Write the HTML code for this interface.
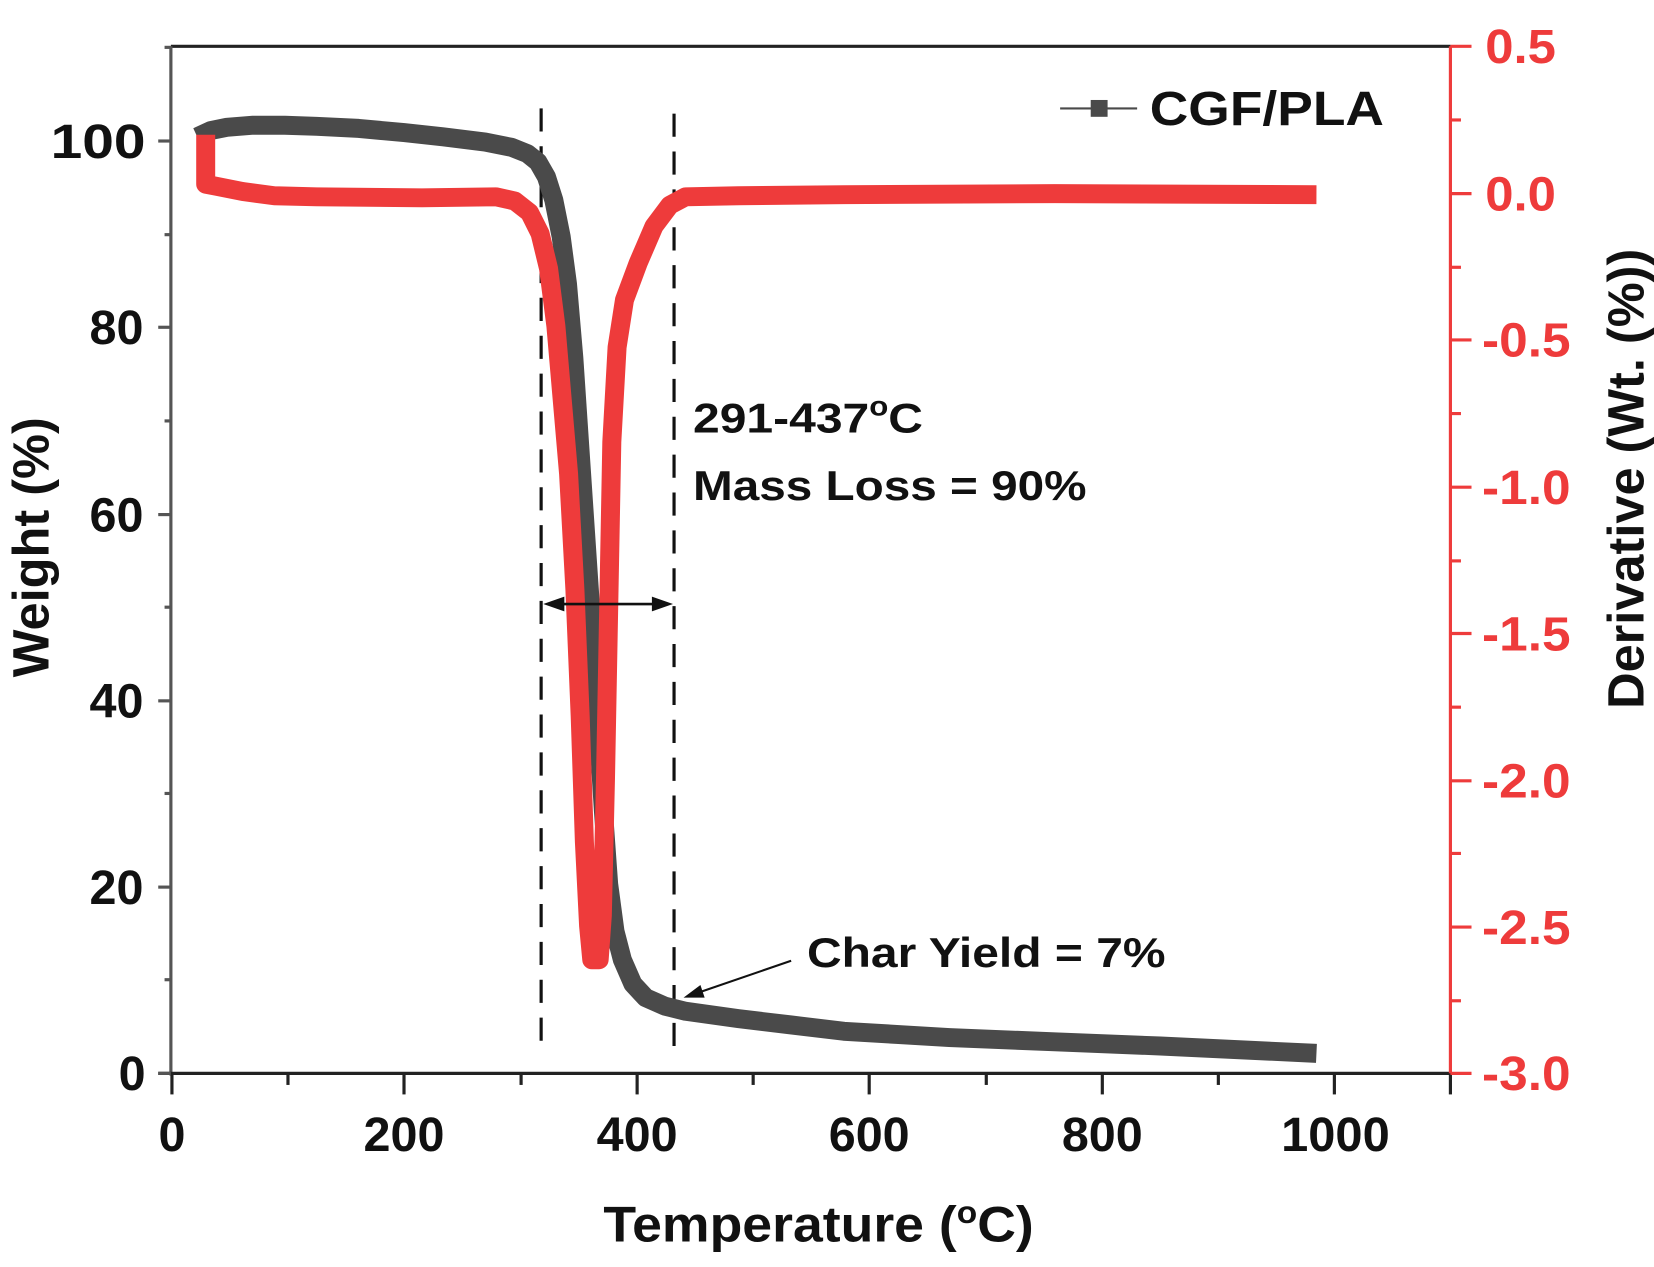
<!DOCTYPE html>
<html><head><meta charset="utf-8"><style>
html,body{margin:0;padding:0;background:#fff;}
svg{display:block;}
text{font-family:"Liberation Sans",Arial,sans-serif;font-weight:bold;}
</style></head><body>
<svg width="1654" height="1267" viewBox="0 0 1568 1204" preserveAspectRatio="none" xmlns="http://www.w3.org/2000/svg">
<rect width="1568" height="1204" fill="#fff"/>
<line x1="162" y1="44" x2="1375" y2="44" stroke="#222" stroke-width="3"/>
<line x1="162" y1="44" x2="162" y2="1022" stroke="#555" stroke-width="3"/>
<line x1="150" y1="1020" x2="1375" y2="1020" stroke="#222" stroke-width="3"/>
<line x1="1375" y1="44" x2="1375" y2="1020" stroke="#ee3b3b" stroke-width="3"/>
<g stroke="#222" stroke-width="3">
<line x1="163" y1="1020" x2="163" y2="1040"/><line x1="273" y1="1020" x2="273" y2="1031"/>
<line x1="383" y1="1020" x2="383" y2="1040"/><line x1="494" y1="1020" x2="494" y2="1031"/>
<line x1="604" y1="1020" x2="604" y2="1040"/><line x1="714" y1="1020" x2="714" y2="1031"/>
<line x1="824" y1="1020" x2="824" y2="1040"/><line x1="935" y1="1020" x2="935" y2="1031"/>
<line x1="1045" y1="1020" x2="1045" y2="1040"/><line x1="1155" y1="1020" x2="1155" y2="1031"/>
<line x1="1265" y1="1020" x2="1265" y2="1040"/><line x1="1375" y1="1020" x2="1375" y2="1040"/>
</g>
<g stroke="#555" stroke-width="3">
<line x1="150" y1="1020" x2="162" y2="1020"/><line x1="156" y1="931" x2="162" y2="931"/>
<line x1="150" y1="843" x2="162" y2="843"/><line x1="156" y1="754" x2="162" y2="754"/>
<line x1="150" y1="666" x2="162" y2="666"/><line x1="156" y1="577" x2="162" y2="577"/>
<line x1="150" y1="489" x2="162" y2="489"/><line x1="156" y1="400" x2="162" y2="400"/>
<line x1="150" y1="311" x2="162" y2="311"/><line x1="156" y1="223" x2="162" y2="223"/>
<line x1="150" y1="134" x2="162" y2="134"/><line x1="156" y1="45" x2="162" y2="45"/>
</g>
<g font-size="46" text-anchor="end" fill="#111">
<text x="138" y="1036">0</text><text x="136" y="859">20</text><text x="136" y="682">40</text>
<text x="136" y="505">60</text><text x="136" y="327">80</text><text x="138" y="150" textLength="90" lengthAdjust="spacingAndGlyphs">100</text>
</g>
<g stroke="#ee3b3b" stroke-width="3">
<line x1="1375" y1="44" x2="1395" y2="44"/><line x1="1375" y1="114" x2="1385" y2="114"/>
<line x1="1375" y1="184" x2="1395" y2="184"/><line x1="1375" y1="254" x2="1385" y2="254"/>
<line x1="1375" y1="323" x2="1395" y2="323"/><line x1="1375" y1="393" x2="1385" y2="393"/>
<line x1="1375" y1="463" x2="1395" y2="463"/><line x1="1375" y1="533" x2="1385" y2="533"/>
<line x1="1375" y1="602" x2="1395" y2="602"/><line x1="1375" y1="672" x2="1385" y2="672"/>
<line x1="1375" y1="742" x2="1395" y2="742"/><line x1="1375" y1="811" x2="1385" y2="811"/>
<line x1="1375" y1="881" x2="1395" y2="881"/><line x1="1375" y1="951" x2="1385" y2="951"/>
<line x1="1375" y1="1020" x2="1395" y2="1020"/>
</g>
<g font-size="46" fill="#ee3b3b">
<text x="1408" y="60" textLength="67" lengthAdjust="spacingAndGlyphs">0.5</text>
<text x="1408" y="200" textLength="67" lengthAdjust="spacingAndGlyphs">0.0</text>
<text x="1405" y="339" textLength="84" lengthAdjust="spacingAndGlyphs">-0.5</text>
<text x="1405" y="479" textLength="84" lengthAdjust="spacingAndGlyphs">-1.0</text>
<text x="1405" y="618" textLength="84" lengthAdjust="spacingAndGlyphs">-1.5</text>
<text x="1405" y="758" textLength="84" lengthAdjust="spacingAndGlyphs">-2.0</text>
<text x="1405" y="897" textLength="84" lengthAdjust="spacingAndGlyphs">-2.5</text>
<text x="1405" y="1036" textLength="84" lengthAdjust="spacingAndGlyphs">-3.0</text>
</g>
<g font-size="46" text-anchor="middle" fill="#111">
<text x="163" y="1094">0</text><text x="383" y="1094">200</text><text x="604" y="1094">400</text>
<text x="824" y="1094">600</text><text x="1045" y="1094">800</text><text x="1266" y="1094" textLength="103" lengthAdjust="spacingAndGlyphs">1000</text>
</g>
<text x="572" y="1180" font-size="48" fill="#111" textLength="408" lengthAdjust="spacingAndGlyphs">Temperature (<tspan font-size="30" dy="-18">o</tspan><tspan dy="18">C)</tspan></text>
<text transform="translate(46,520) rotate(-90)" font-size="48" text-anchor="middle" fill="#111">Weight (%)</text>
<text transform="translate(1558,455) rotate(-90)" font-size="48" text-anchor="middle" fill="#111">Derivative (Wt. (%))</text>
<g stroke="#111" stroke-width="3" stroke-dasharray="22,14">
<line x1="513" y1="103" x2="513" y2="995"/><line x1="639" y1="108" x2="639" y2="995"/>
</g>
<polyline fill="none" stroke="#4a4a4a" stroke-width="18" stroke-linejoin="round" stroke-linecap="butt" points="187,130 200,124 215,121 240,119 270,119 300,120 340,122 383,126 420,130 460,135 485,140 500,146 510,154 518,168 525,190 532,225 538,270 544,340 550,430 556,520 562,610 567,690 572,770 577,840 583,885 590,912 600,935 612,948 630,956 650,961 700,968 750,974 800,980 850,983 900,986 1000,990 1100,994 1248,1001"/>
<polyline fill="none" stroke="#ee3b3b" stroke-width="18" stroke-linejoin="round" points="195,128 195,175 205,177 230,182 260,186 300,187 400,188 470,187 488,191 502,202 512,222 520,255 527,310 533,380 539,450 545,560 550,680 554,800 558,880 561,912 568,912 571,870 574,740 577,580 580,420 585,330 592,285 605,250 620,215 635,195 650,187 700,186 800,185 1000,184 1248,185"/>
<line x1="525" y1="574" x2="628" y2="574" stroke="#111" stroke-width="2.5"/>
<polygon points="515,574 535,567 535,581" fill="#111"/>
<polygon points="638,574 618,567 618,581" fill="#111"/>
<text x="657" y="411" font-size="40" fill="#111" textLength="218" lengthAdjust="spacingAndGlyphs">291-437<tspan font-size="26" dy="-16">o</tspan><tspan dy="16">C</tspan></text>
<text x="657" y="475" font-size="40" fill="#111" textLength="373" lengthAdjust="spacingAndGlyphs">Mass Loss = 90%</text>
<text x="765" y="919" font-size="40" fill="#111" textLength="340" lengthAdjust="spacingAndGlyphs">Char Yield = 7%</text>
<line x1="750" y1="913" x2="660" y2="944" stroke="#111" stroke-width="2"/>
<polygon points="648,948 664,936 668,948" fill="#111"/>
<line x1="1005" y1="103" x2="1078" y2="103" stroke="#4a4a4a" stroke-width="2"/>
<rect x="1034" y="95" width="16" height="16" fill="#4a4a4a"/>
<text x="1090" y="119" font-size="46" fill="#111" textLength="222" lengthAdjust="spacingAndGlyphs">CGF/PLA</text>
</svg>
</body></html>
